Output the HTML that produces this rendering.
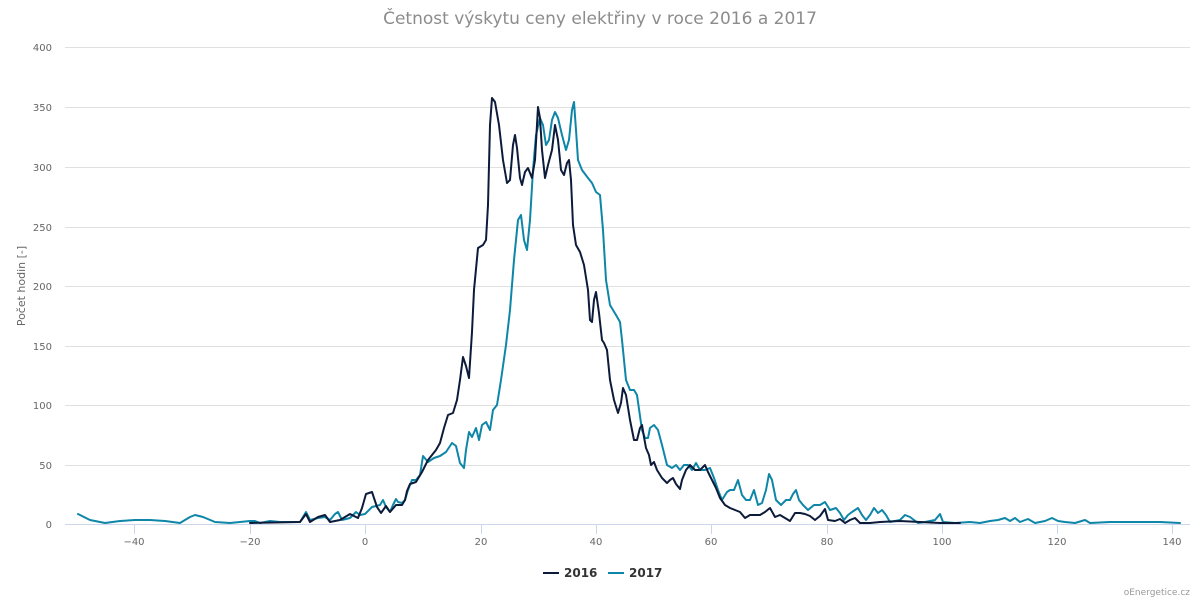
<!DOCTYPE html>
<html><head><meta charset="utf-8"><style>body{margin:0;background:#fff}svg{display:block;font-family:"DejaVu Sans","Liberation Sans",sans-serif}</style></head><body>
<svg width="1200" height="600" viewBox="0 0 1200 600">
<text x="600" y="24" text-anchor="middle" font-size="17" fill="#8c8c8c">Četnost výskytu ceny elektřiny v roce 2016 a 2017</text>
<g stroke="#e0e0e0" stroke-width="1">
<line x1="65" x2="1190" y1="47.5" y2="47.5"/><line x1="65" x2="1190" y1="107.5" y2="107.5"/><line x1="65" x2="1190" y1="167.5" y2="167.5"/><line x1="65" x2="1190" y1="227.5" y2="227.5"/><line x1="65" x2="1190" y1="286.5" y2="286.5"/><line x1="65" x2="1190" y1="346.5" y2="346.5"/><line x1="65" x2="1190" y1="405.5" y2="405.5"/><line x1="65" x2="1190" y1="465.5" y2="465.5"/>
</g>
<line x1="65" x2="1190" y1="524.5" y2="524.5" stroke="#ccd6eb"/>
<g stroke="#ccd6eb"><line x1="134.5" x2="134.5" y1="524" y2="534"/><line x1="250.5" x2="250.5" y1="524" y2="534"/><line x1="365.5" x2="365.5" y1="524" y2="534"/><line x1="481.5" x2="481.5" y1="524" y2="534"/><line x1="596.5" x2="596.5" y1="524" y2="534"/><line x1="711.5" x2="711.5" y1="524" y2="534"/><line x1="827.5" x2="827.5" y1="524" y2="534"/><line x1="942.5" x2="942.5" y1="524" y2="534"/><line x1="1057.5" x2="1057.5" y1="524" y2="534"/><line x1="1172.5" x2="1172.5" y1="524" y2="534"/></g>
<g font-size="10" fill="#666" text-anchor="end">
<text x="52" y="51">400</text><text x="52" y="111">350</text><text x="52" y="171">300</text><text x="52" y="231">250</text><text x="52" y="290">200</text><text x="52" y="350">150</text><text x="52" y="409">100</text><text x="52" y="469">50</text><text x="52" y="528">0</text>
</g>
<g font-size="10" fill="#666" text-anchor="middle">
<text x="134" y="545">−40</text><text x="250" y="545">−20</text><text x="365" y="545">0</text><text x="481" y="545">20</text><text x="596" y="545">40</text><text x="711" y="545">60</text><text x="827" y="545">80</text><text x="942" y="545">100</text><text x="1057" y="545">120</text><text x="1172" y="545">140</text>
</g>
<text transform="translate(25,286) rotate(-90)" text-anchor="middle" font-size="11" fill="#666">Počet hodin [-]</text>
<g fill="none" stroke-width="2" stroke-linejoin="round" stroke-linecap="round">
<polyline stroke="#0e86a8" points="78,514 90,520 105,523 120,521 135,520 150,520 165,521 180,523 190,517 195,515 203,517 215,522 230,523 240,522 250,521 255,521 260,523 270,521 280,522 300,522 306,512 310,520 318,518 325,517 330,520 335,514 338,512 342,520 350,518 356,512 360,515 365,514 372,507 376,506 380,505 383,500 386,507 390,512 393,505 396,499 398,502 402,503 405,500 408,490 412,480 416,480 420,475 423,456 428,462 434,458 440,456 446,452 452,443 456,446 460,463 464,468 466,450 469,432 472,437 476,428 479,440 482,425 486,422 490,430 493,410 497,405 501,380 506,345 510,310 514,260 518,220 521,215 524,240 527,250 530,220 533,170 536,135 540,118 543,125 546,145 549,140 552,120 555,112 558,118 562,135 566,150 569,140 572,110 574,102 576,130 578,160 582,170 588,178 592,183 596,192 600,195 603,230 606,280 610,305 616,315 620,322 622,340 626,380 630,390 634,390 637,395 642,430 645,438 648,438 650,428 654,425 658,430 662,445 667,465 672,468 676,465 680,470 684,465 688,465 692,470 696,463 700,470 705,470 710,468 714,478 718,490 722,500 727,492 730,490 734,490 738,480 742,495 746,500 750,500 754,490 758,505 762,503 766,490 769,474 772,480 776,500 781,505 786,500 790,500 793,494 796,490 799,500 803,505 808,510 814,505 820,505 825,502 830,510 836,508 840,513 844,520 848,515 852,512 858,508 862,515 866,520 870,515 874,508 878,513 882,510 886,515 890,522 900,520 905,515 910,517 918,523 925,522 935,520 940,514 943,522 955,523 970,522 980,523 990,521 998,520 1005,518 1010,521 1015,518 1020,522 1028,519 1035,523 1045,521 1052,518 1058,521 1065,522 1075,523 1085,520 1090,523 1110,522 1130,522 1160,522 1180,523"/>
<polyline stroke="#0d1b3a" points="250,523 300,522 306,514 310,522 318,517 325,515 330,522 340,520 350,514 358,518 362,508 366,494 372,492 377,507 381,513 386,506 390,512 396,505 402,505 405,500 407,491 410,484 416,482 422,472 428,460 436,450 440,443 444,428 448,415 453,413 457,400 460,380 463,357 466,366 469,378 472,332 474,290 478,248 483,245 486,240 488,205 490,125 492,98 495,102 499,125 503,160 507,183 510,180 513,145 515,135 517,148 520,178 522,185 525,172 528,168 532,178 535,160 538,107 540,118 542,150 545,178 548,165 552,150 555,125 558,140 561,170 564,175 567,163 569,160 571,180 573,225 576,245 580,252 584,265 588,290 590,320 592,322 594,300 596,292 599,313 602,340 604,343 607,350 610,380 614,400 618,413 621,403 623,388 626,395 630,420 634,440 637,440 640,428 642,425 644,437 646,448 649,455 651,465 654,462 657,470 662,478 667,483 670,480 673,478 676,484 680,489 682,480 686,470 690,465 695,470 700,470 705,465 708,472 712,480 716,488 720,498 725,505 730,508 735,510 740,512 745,518 750,515 760,515 765,512 770,508 775,517 780,515 785,518 790,521 795,513 800,513 805,514 810,516 815,520 820,516 825,509 828,520 835,521 840,519 845,523 850,520 855,518 860,523 870,523 880,522 900,521 940,523 960,523"/>
</g>
<line x1="543" x2="559" y1="573" y2="573" stroke="#0d1b3a" stroke-width="2"/>
<text x="564" y="577" font-size="12" font-weight="bold" fill="#333">2016</text>
<line x1="608" x2="624" y1="573" y2="573" stroke="#0e86a8" stroke-width="2"/>
<text x="629" y="577" font-size="12" font-weight="bold" fill="#333">2017</text>
<text x="1190" y="595" text-anchor="end" font-size="9" fill="#999">oEnergetice.cz</text>
</svg>
</body></html>
